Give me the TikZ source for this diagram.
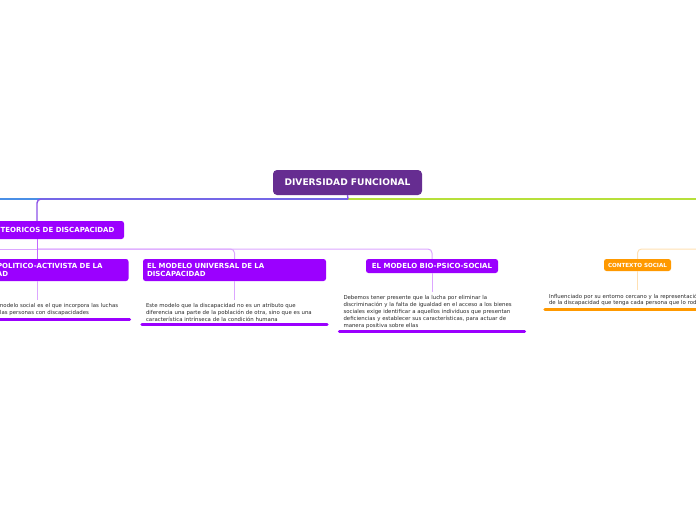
\documentclass[tikz,border=0pt]{standalone}
\usepackage{fontspec}
\setsansfont{DejaVu Sans}
\usetikzlibrary{positioning}

\definecolor{rootc}{HTML}{662D91}
\definecolor{violetc}{HTML}{9B00FF}
\definecolor{orangec}{HTML}{FF9900}
\definecolor{bluec}{HTML}{4A8FE6}
\definecolor{midviolet}{HTML}{8C52E8}
\definecolor{limec}{HTML}{B6E03A}
\definecolor{txtgray}{HTML}{2A2A2A}

\begin{document}
\begin{tikzpicture}[x=1pt, y=-1pt,
        rootbox/.style={fill=rootc, rounded corners=4pt, text=white, font=\sffamily\bfseries\fontsize{9.1}{10}\selectfont, minimum width=149pt, minimum height=25pt, inner sep=0pt},
        hbox/.style={fill=violetc, rounded corners=2.5pt, text=white, font=\sffamily\bfseries\fontsize{7}{8}\selectfont, inner sep=4pt},
        hwide/.style={hbox, text width=175pt, align=left, minimum height=22pt},
        obox/.style={hbox, fill=orangec, font=\sffamily\bfseries\fontsize{5.6}{6.5}\selectfont, minimum width=67pt, minimum height=12pt, inner sep=2pt},
        txt/.style={font=\sffamily\fontsize{5.4}{6.8}\selectfont, text=txtgray, text width=177pt, align=left, inner xsep=4pt, inner ysep=3.3pt},
        rline/.style={line width=1.4pt},
        lvline/.style={draw=violetc!35, line width=1pt, rounded corners=4pt},
        loline/.style={draw=orangec!30, line width=1pt, rounded corners=4pt},
        uline/.style={line width=3pt, line cap=round},
        node distance=19pt
    ]
        \useasboundingbox (0,0) rectangle (696,520);
        \clip (0,0) rectangle (696,520);

        % root and main branches
        \node[rootbox] (root) at (347.5,182.5) {DIVERSIDAD FUNCIONAL};
        \coordinate (jroot) at (348,199);
        \coordinate (westend) at (-20,199);
        \coordinate (eastend) at (720,199);

        \node[hbox, minimum width=174pt, minimum height=18pt] (teoricos) at (37,230) {MODELOS TEORICOS DE DISCAPACIDAD};
        \coordinate (jteo) at (37,249);
        \coordinate (westmid) at (-20,249);
        \coordinate (eastmid) at (720,249);

        \draw[rline, draw=limec] (jroot) -- (eastend);
        \draw[rline, draw=bluec] (jroot) -- (westend);
        \draw[rline, draw=midviolet] (root.south) -- (jroot);
        \draw[rline, draw=midviolet, rounded corners=4pt] (jroot) -| (teoricos.north);

        % models
        \node[hwide] (politico) at (37,270) {EL MODELO POLITICO-ACTIVISTA DE LA\\DISCAPACIDAD};
        \node[hwide] (universal) at (234.5,270) {EL MODELO UNIVERSAL DE LA\\DISCAPACIDAD};
        \node[hbox, minimum width=132pt, minimum height=14pt, inner ysep=2pt] (bio) at (432,266) {EL MODELO BIO-PSICO-SOCIAL};
        \node[obox] (contexto) at (637.5,265) {CONTEXTO SOCIAL};

        \draw[lvline] (westmid) -- (jteo);
        \draw[lvline] (jteo) -| (universal.north);
        \draw[lvline] (jteo) -| (bio.north);
        \draw[line width=1pt, draw=violetc!60] (teoricos.south) -- (politico.north);
        \draw[loline] (eastmid) -| (contexto.north);

        % texts
        \node[txt, below=of politico, xshift=21.5pt, text width=134pt] (tpolitico) {El modelo social es el que incorpora las luchas\\de las personas con discapacidades};
        \node[txt, below=of universal] (tuniversal) {Este modelo que la discapacidad no es un atributo que\\diferencia una parte de la población de otra, sino que es una\\característica intrínseca de la condición humana};
        \node[txt, below=of bio] (tbio) {Debemos tener presente que la lucha por eliminar la\\discriminación y la falta de igualdad en el acceso a los bienes\\sociales exige identificar a aquellos individuos que presentan\\deficiencias y establecer sus características, para actuar de\\manera positiva sobre ellas};
        \node[txt, below=of contexto, text width=200pt, xshift=11.5pt] (tcontexto) {Influenciado por su entorno cercano y la representación\\de la discapacidad que tenga cada persona que lo rodea};

        \draw[lvline] (politico.south) -- (politico.south |- tpolitico.north);
        \draw[lvline] (universal.south) -- (tuniversal.north);
        \draw[lvline] (bio.south) -- (tbio.north);
        \draw[loline] (contexto.south) -- (contexto.south |- tcontexto.north);

        \draw[uline, draw=violetc] (politico.west |- tpolitico.south) -- (tpolitico.south east);
        \draw[uline, draw=violetc] (tuniversal.south west) -- (tuniversal.south east);
        \draw[uline, draw=violetc] (tbio.south west) -- (tbio.south east);
        \draw[uline, draw=orangec] (tcontexto.south west) -- (tcontexto.south east);
    \end{tikzpicture}
\end{document}
